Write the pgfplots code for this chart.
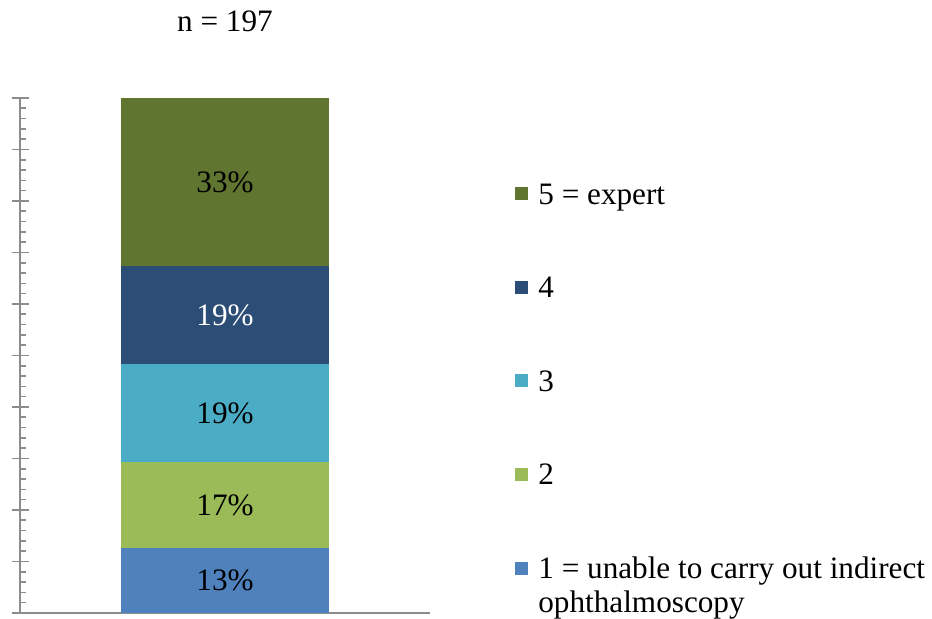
\documentclass[border=0pt]{standalone}
\usepackage{fontspec}
\setmainfont{Liberation Serif}
\usepackage{amsmath}
\usepackage{pgfplots}
\pgfplotsset{compat=1.18}
\definecolor{c1}{HTML}{4F81BD}
\definecolor{c2}{HTML}{9BBB59}
\definecolor{c3}{HTML}{4BACC6}
\definecolor{c4}{HTML}{2C4D75}
\definecolor{c5}{HTML}{5F7530}
\definecolor{axgray}{HTML}{8C8C8C}
\begin{document}
\begin{tikzpicture}[font=\fontsize{15.6}{17}\selectfont]
\path[use as bounding box] (-10pt,-3pt) rectangle (456pt,306.5pt);
\begin{axis}[
  scale only axis,
  width=205pt, height=257.5pt,
  at={(0,0)}, anchor=south west,
  ybar stacked, bar width=104pt,
  xmin=-1, xmax=1, ymin=0, ymax=100,
  axis x line*=bottom, axis y line*=left,
  axis line style={draw=axgray, line width=0.8pt, -},
  xtick=\empty,
  ytick={0,10,...,100}, yticklabels={},
  minor y tick num=4,
  tick align=inside,
  major tick length=8.5pt, minor tick length=3pt,
  every tick/.style={draw=axgray, line width=0.8pt},
  every major tick/.append style={xshift=-4.25pt},
  title={n = 197},
  title style={at={(0.5,1)}, anchor=base, yshift=27pt, inner sep=0pt},
  point meta=rawy,
  /pgf/number format/assume math mode=true,
  nodes near coords={\pgfmathprintnumber[fixed,precision=0]{\pgfplotspointmeta}\%},
  every node near coord/.append style={anchor=center, text=black},
  reverse legend,
  legend cell align=left,
  legend style={draw=none, fill=none, at={(1.2073,0.841)}, anchor=north west,
     inner sep=0pt, nodes={inner sep=0pt}, row sep=33.4pt, column sep=5pt},
  legend image code/.code={\fill[#1] (0pt,-3.25pt) rectangle (6.5pt,3.25pt);},
]
\addplot[fill=c1, draw=none] coordinates {(0,12.6)};
\addlegendentry{\strut\smash[b]{\begin{tabular}[t]{@{}l@{}}1 = unable to carry out indirect\\ophthalmoscopy\end{tabular}}}
\addplot[fill=c2, draw=none] coordinates {(0,16.7)};
\addlegendentry{\strut 2}
\addplot[fill=c3, draw=none] coordinates {(0,19.0)};
\addlegendentry{\strut 3}
\addplot[fill=c4, draw=none, every node near coord/.append style={text=white}] coordinates {(0,19.1)};
\addlegendentry{\strut 4}
\addplot[fill=c5, draw=none] coordinates {(0,32.6)};
\addlegendentry{\strut 5 = expert}
\end{axis}
\end{tikzpicture}
\end{document}
